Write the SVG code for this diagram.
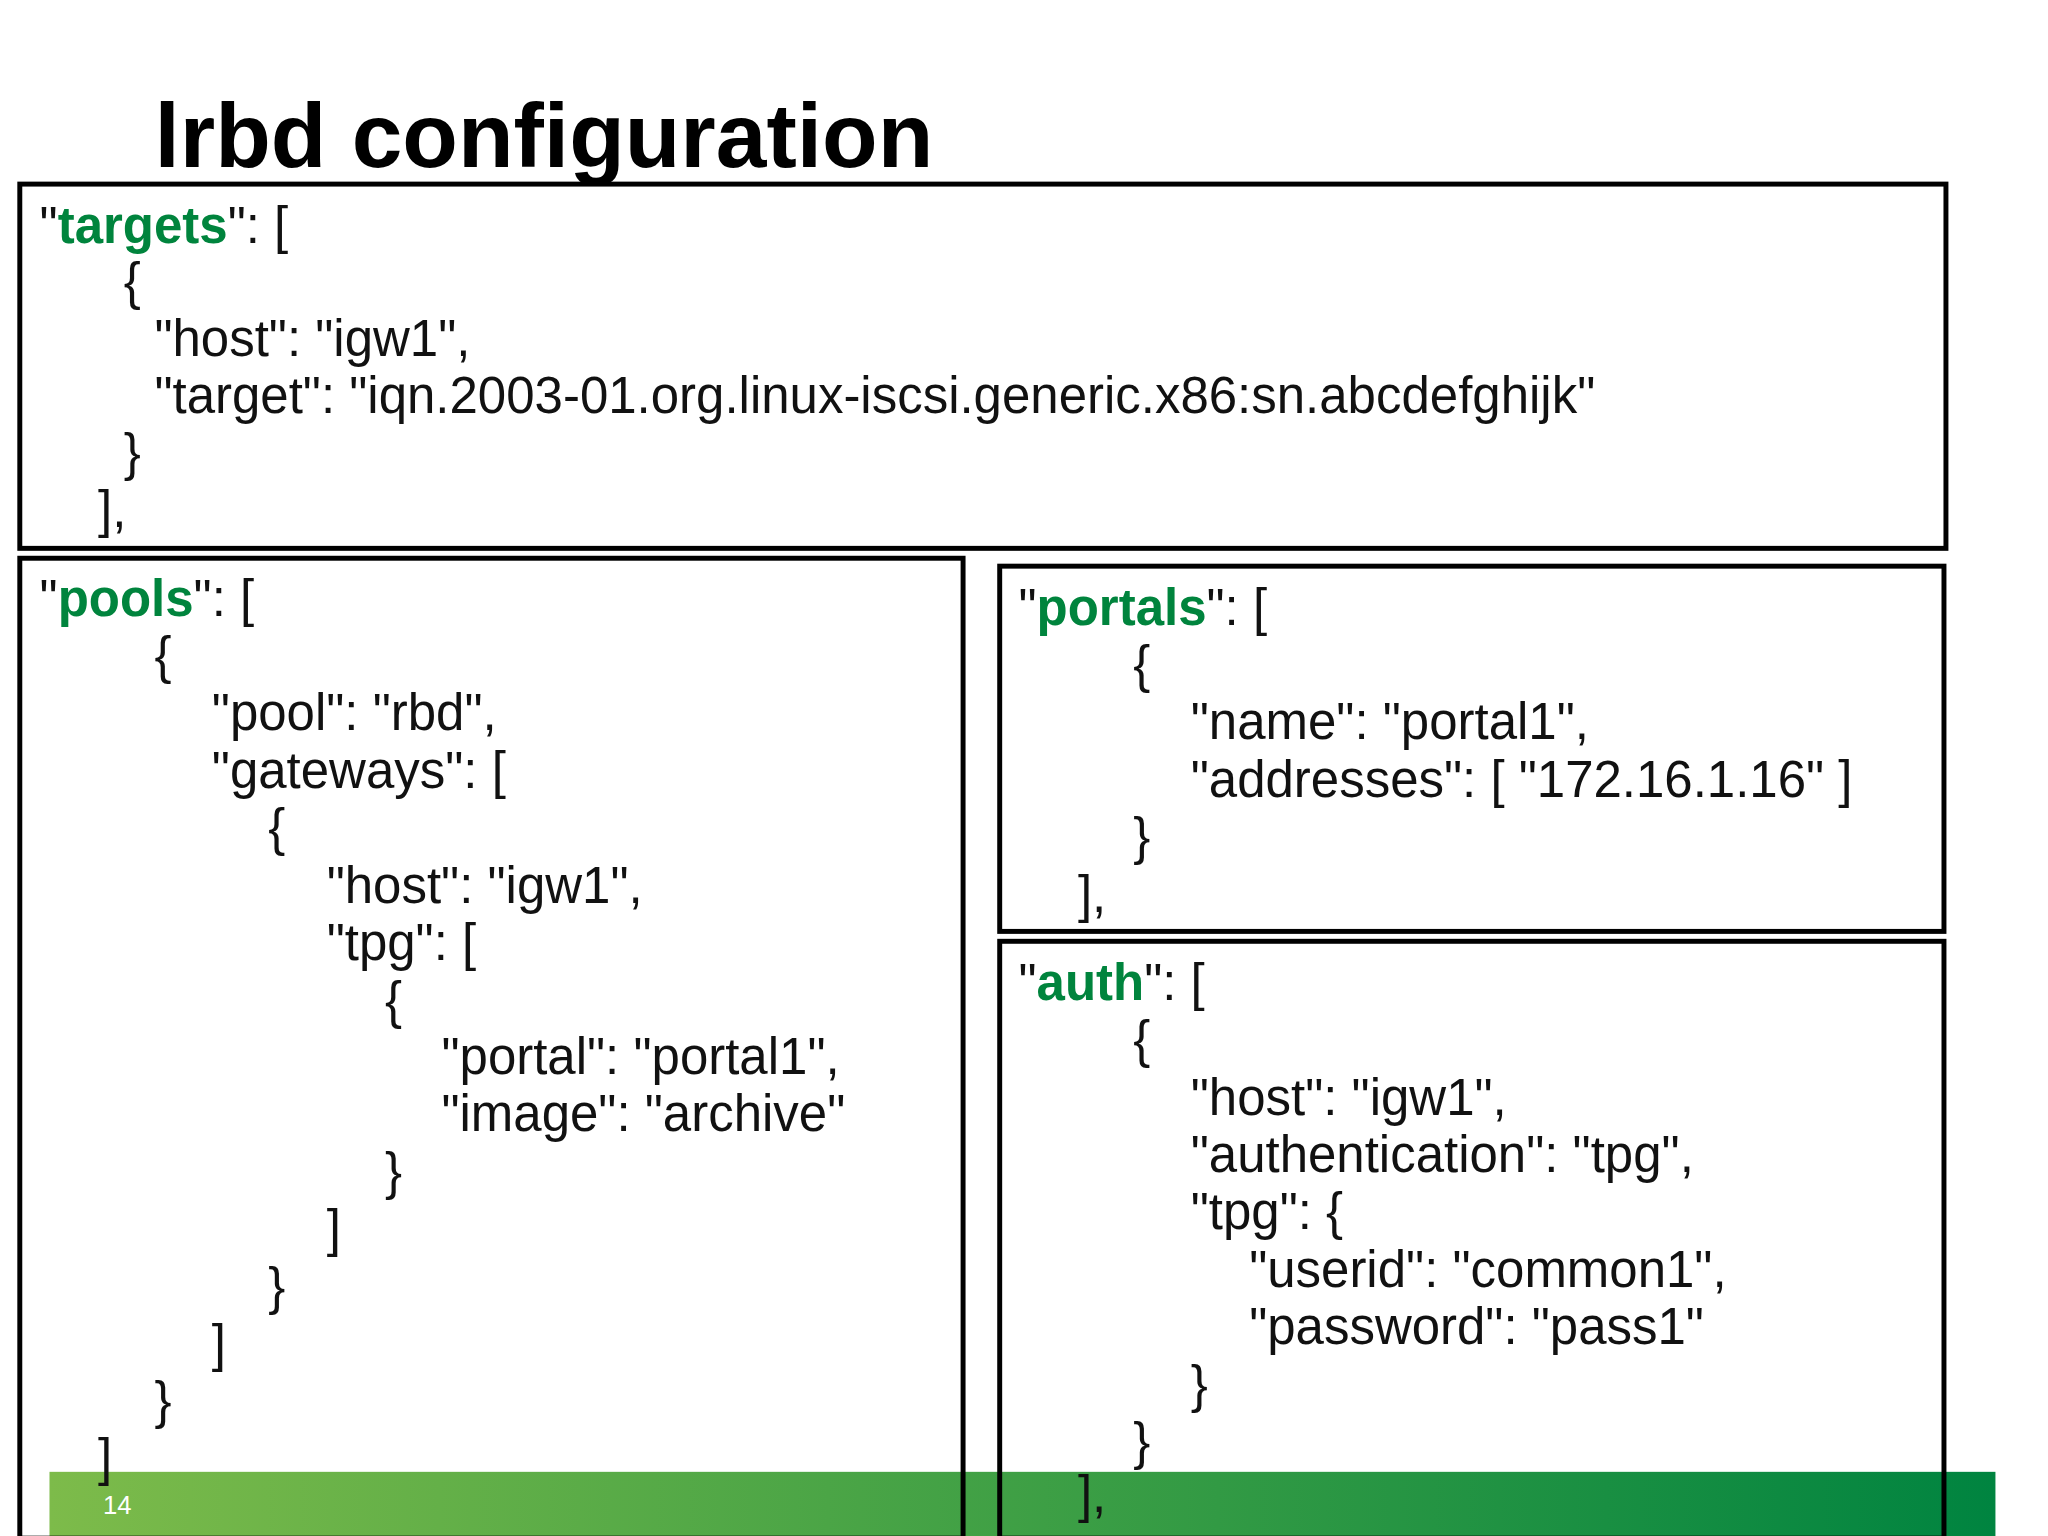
<svg xmlns="http://www.w3.org/2000/svg" width="2048" height="1536" viewBox="0 0 2048 1536">
<defs>
<linearGradient id="g" x1="0" x2="1" y1="0" y2="0"><stop offset="0" stop-color="#7dbb4a"/><stop offset="1" stop-color="#008440"/></linearGradient>
<style>
.t{font-family:"Liberation Sans",Arial,sans-serif;font-size:51.5px;fill:#111}
.k{fill:#00843d;font-weight:bold}
.b{fill:none;stroke:#000;stroke-width:5}
</style>
</defs>
<rect width="2048" height="1536" fill="#fff"/>
<g transform="scale(0.9898)">
<rect x="50" y="1487" width="1966" height="70" fill="url(#g)"/>
<text x="104" y="1530" font-family="Liberation Sans,Arial,sans-serif" font-size="26" fill="#fff">14</text>
<text x="156" y="169" font-family="Liberation Sans,Arial,sans-serif" font-size="92" font-weight="bold" fill="#000">lrbd configuration</text>
<g id="targets">
<rect class="b" x="20" y="186" width="1946" height="368"/>
<text class="t"><tspan x="40" y="245">"<tspan class="k">targets</tspan>": [</tspan><tspan x="125" y="302">{</tspan><tspan x="156" y="360">"host": "igw1",</tspan><tspan x="156" y="417">"target": "iqn.2003-01.org.linux-iscsi.generic.x86:sn.abcdefghijk"</tspan><tspan x="125" y="475">}</tspan><tspan x="99" y="532">],</tspan></text>
</g>
<g id="pools">
<rect class="b" x="20" y="564" width="953" height="990"/>
<text class="t"><tspan x="40" y="622">"<tspan class="k">pools</tspan>": [</tspan><tspan x="156" y="680">{</tspan><tspan x="214" y="738">"pool": "rbd",</tspan><tspan x="214" y="796">"gateways": [</tspan><tspan x="271" y="854">{</tspan><tspan x="330" y="912">"host": "igw1",</tspan><tspan x="330" y="970">"tpg": [</tspan><tspan x="389" y="1028">{</tspan><tspan x="446" y="1085">"portal": "portal1",</tspan><tspan x="446" y="1143">"image": "archive"</tspan><tspan x="389" y="1201">}</tspan><tspan x="330" y="1259">]</tspan><tspan x="271" y="1317">}</tspan><tspan x="214" y="1375">]</tspan><tspan x="156" y="1433">}</tspan><tspan x="99" y="1490">]</tspan></text>
</g>
<g id="portals">
<rect class="b" x="1010" y="572" width="954" height="369"/>
<text class="t"><tspan x="1029" y="631">"<tspan class="k">portals</tspan>": [</tspan><tspan x="1145" y="689">{</tspan><tspan x="1203" y="747">"name": "portal1",</tspan><tspan x="1203" y="805">"addresses": [ "172.16.1.16" ]</tspan><tspan x="1145" y="863">}</tspan><tspan x="1089" y="921">],</tspan></text>
</g>
<g id="auth">
<rect class="b" x="1010" y="951" width="954" height="603"/>
<text class="t"><tspan x="1029" y="1010">"<tspan class="k">auth</tspan>": [</tspan><tspan x="1145" y="1068">{</tspan><tspan x="1203" y="1126">"host": "igw1",</tspan><tspan x="1203" y="1184">"authentication": "tpg",</tspan><tspan x="1203" y="1242">"tpg": {</tspan><tspan x="1262" y="1300">"userid": "common1",</tspan><tspan x="1262" y="1358">"password": "pass1"</tspan><tspan x="1203" y="1416">}</tspan><tspan x="1145" y="1474">}</tspan><tspan x="1089" y="1528">],</tspan></text>
</g>
<g id="connectors"/>
</g>
</svg>
